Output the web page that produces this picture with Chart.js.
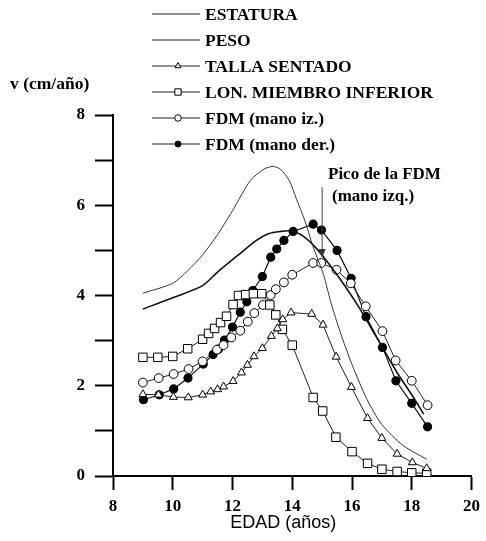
<!DOCTYPE html>
<html>
<head>
<meta charset="utf-8">
<script src="https://cdn.jsdelivr.net/npm/chart.js@4/dist/chart.umd.min.js"></script>
<style>
  body { margin: 0; background: #fff; }
</style>
</head>
<body>
<canvas id="velocidad" width="486" height="541"></canvas>
<script>
// Datos (edad en años, velocidad en cm/año)
const estaturaEdad = [9.0, 10.0, 10.5, 11.0, 11.5, 12.0, 12.6, 13.05, 13.35, 13.6, 13.9, 14.15, 14.4, 14.7, 15.05, 15.3, 15.6, 16.0, 16.5, 17.0, 17.7, 18.5];
const estaturaV    = [4.05, 4.27, 4.55, 4.9, 5.35, 5.88, 6.55, 6.8, 6.86, 6.8, 6.55, 6.12, 5.7, 5.08, 4.45, 3.83, 3.2, 2.47, 1.7, 1.14, 0.68, 0.37];

const pesoEdad = [9.0, 10.0, 11.0, 11.5, 12.2, 12.8, 13.2, 13.6, 14.0, 14.4, 14.8, 15.25, 15.7, 16.25, 16.8, 17.5, 18.0, 18.4];
const pesoV    = [3.7, 3.95, 4.22, 4.52, 4.9, 5.22, 5.37, 5.42, 5.43, 5.3, 5.05, 4.68, 4.27, 3.72, 3.1, 2.3, 1.8, 1.37];

const tallaEdad = [9.0, 9.52, 10.02, 10.52, 11.0, 11.27, 11.5, 11.7, 12.02, 12.3, 12.5, 12.72, 13.0, 13.3, 13.5, 13.68, 13.96, 14.65, 15.03, 15.47, 15.98, 16.52, 17.0, 17.51, 18.02, 18.5];
const tallaV    = [1.81, 1.8, 1.75, 1.74, 1.8, 1.87, 1.92, 1.98, 2.1, 2.29, 2.46, 2.65, 2.83, 3.1, 3.27, 3.47, 3.62, 3.59, 3.35, 2.64, 1.97, 1.28, 0.84, 0.49, 0.3, 0.17];

const miembroEdad = [9.0, 9.5, 10.0, 10.5, 11.0, 11.2, 11.4, 11.6, 11.8, 12.02, 12.2, 12.44, 12.7, 12.98, 13.25, 13.45, 13.67, 14.0, 14.7, 15.02, 15.46, 16.0, 16.52, 17.0, 17.51, 18.0, 18.5];
const miembroV    = [2.63, 2.63, 2.65, 2.82, 3.03, 3.16, 3.27, 3.4, 3.54, 3.8, 4.0, 4.02, 4.04, 4.04, 3.79, 3.57, 3.25, 2.9, 1.74, 1.44, 0.86, 0.54, 0.28, 0.15, 0.1, 0.07, 0.06];

const izqEdad = [9.0, 9.53, 10.03, 10.53, 11.0, 11.48, 11.7, 11.96, 12.26, 12.51, 12.73, 13.02, 13.28, 13.45, 13.72, 14.0, 14.7, 14.97, 15.48, 15.96, 16.46, 17.02, 17.46, 18.0, 18.53];
const izqV    = [2.07, 2.17, 2.26, 2.37, 2.54, 2.8, 2.9, 3.07, 3.22, 3.42, 3.61, 3.79, 4.01, 4.14, 4.29, 4.46, 4.72, 4.72, 4.57, 4.27, 3.76, 3.21, 2.56, 2.11, 1.57];

const derEdad = [9.02, 9.55, 10.03, 10.51, 11.02, 11.35, 11.53, 11.73, 12.0, 12.26, 12.48, 12.68, 13.0, 13.28, 13.48, 13.72, 14.03, 14.7, 14.98, 15.5, 15.97, 16.47, 17.02, 17.47, 18.0, 18.53];
const derV    = [1.69, 1.8, 1.93, 2.17, 2.48, 2.69, 2.81, 3.01, 3.3, 3.63, 3.86, 4.11, 4.42, 4.85, 5.03, 5.22, 5.42, 5.58, 5.45, 5.0, 4.38, 3.53, 2.85, 2.11, 1.61, 1.09];

const edadTicks = [8, 10, 12, 14, 16, 18, 20];
const velTicks = [0, 2, 4, 6, 8];

const nombres = ['ESTATURA', 'PESO', 'TALLA SENTADO', 'LON. MIEMBRO INFERIOR', 'FDM (mano iz.)', 'FDM (mano der.)'];

const serif = "'Liberation Serif', 'Times New Roman', serif";

function puntos(edades, valores) {
    return edades.map((e, i) => ({ x: e, y: valores[i] }));
}

const series = [
    { label: nombres[0], data: puntos(estaturaEdad, estaturaV), borderColor: '#333', borderWidth: 1, pointRadius: 0, tension: 0.25 },
    { label: nombres[1], data: puntos(pesoEdad, pesoV), borderColor: '#111', borderWidth: 1.6, pointRadius: 0, tension: 0.25 },
    { label: nombres[2], data: puntos(tallaEdad, tallaV), borderColor: '#222', borderWidth: 1, pointStyle: 'triangle', pointRadius: 4.6, pointBackgroundColor: '#fff', pointBorderColor: '#000' },
    { label: nombres[3], data: puntos(miembroEdad, miembroV), borderColor: '#222', borderWidth: 1, pointStyle: 'rect', pointRadius: 6, pointBackgroundColor: '#fff', pointBorderColor: '#000' },
    { label: nombres[4], data: puntos(izqEdad, izqV), borderColor: '#222', borderWidth: 1, pointStyle: 'circle', pointRadius: 4.4, pointBackgroundColor: '#fff', pointBorderColor: '#000' },
    { label: nombres[5], data: puntos(derEdad, derV), borderColor: '#111', borderWidth: 1.2, pointStyle: 'circle', pointRadius: 4, pointBackgroundColor: '#000', pointBorderColor: '#000' }
];

// dibuja el simbolo de la leyenda (algo mas chico que en el grafico)
function simbolo(ctx, ds, x, y) {
    if (!ds.pointRadius) return;
    ctx.save();
    ctx.fillStyle = ds.pointBackgroundColor;
    ctx.strokeStyle = ds.pointBorderColor;
    ctx.lineWidth = 1;
    const r = ds.pointRadius * 0.75;
    ctx.beginPath();
    if (ds.pointStyle === 'triangle') {
        for (let k = 0; k < 3; k++) {
            const a = k * 2 * Math.PI / 3;
            const px = x + Math.sin(a) * r, py = y - Math.cos(a) * r;
            if (k === 0) ctx.moveTo(px, py); else ctx.lineTo(px, py);
        }
        ctx.closePath();
    } else if (ds.pointStyle === 'rect') {
        const s = r * Math.SQRT1_2;
        ctx.rect(x - s, y - s, 2 * s, 2 * s);
    } else {
        ctx.arc(x, y, r, 0, 2 * Math.PI);
    }
    ctx.fill();
    ctx.stroke();
    ctx.restore();
}

const extras = {
    id: 'extras',
    afterDraw(chart) {
        const ctx = chart.ctx;
        const xs = chart.scales.x, ys = chart.scales.y;
        ctx.save();

        // leyenda
        ctx.font = 'bold 17.5px ' + serif;
        ctx.textBaseline = 'middle';
        ctx.textAlign = 'left';
        chart.data.datasets.forEach((ds, i) => {
            const y = 14 + i * 26;
            ctx.strokeStyle = '#222';
            ctx.lineWidth = 1;
            ctx.beginPath();
            ctx.moveTo(152, y);
            ctx.lineTo(200, y);
            ctx.stroke();
            simbolo(ctx, ds, 178, y);
            ctx.fillStyle = '#000';
            ctx.fillText(ds.label, 205, y + 1);
        });

        // titulo del eje y
        ctx.fillText('v (cm/año)', 10, 84);

        // titulo del eje x
        ctx.font = '18px "Liberation Sans", Arial, sans-serif';
        ctx.textAlign = 'center';
        ctx.fillText('EDAD (años)', xs.getPixelForValue(13.7), 523);

        // anotacion del pico
        ctx.font = 'bold 17px ' + serif;
        ctx.textAlign = 'left';
        ctx.fillText('Pico de la FDM', 328, 175);
        ctx.fillText('(mano izq.)', 332, 197);

        const px = xs.getPixelForValue(15.0);
        const y0 = ys.getPixelForValue(6.4);
        const y1 = ys.getPixelForValue(4.83);
        ctx.strokeStyle = '#444';
        ctx.lineWidth = 1;
        ctx.beginPath();
        ctx.moveTo(px, y0);
        ctx.lineTo(px, y1 - 6);
        ctx.stroke();
        ctx.fillStyle = '#333';
        ctx.beginPath();
        ctx.moveTo(px, y1);
        ctx.lineTo(px - 3.5, y1 - 9);
        ctx.lineTo(px + 3.5, y1 - 9);
        ctx.closePath();
        ctx.fill();
        ctx.restore();
    }
};

const ctx = document.getElementById('velocidad').getContext('2d');
const grafico = new Chart(ctx, {
    type: 'scatter',
    data: { datasets: series },
    options: {
        responsive: false,
        animation: false,
        showLine: true,
        layout: { padding: { top: 115, left: 0, right: 9, bottom: 0 } },
        plugins: {
            legend: { display: false },
            tooltip: { enabled: false }
        },
        scales: {
            x: {
                type: 'linear',
                min: 8,
                max: 20,
                afterFit: (s) => { s.height = 65; },
                afterBuildTicks: (s) => { s.ticks = edadTicks.map(v => ({ value: v })); },
                ticks: {
                    color: '#000',
                    padding: 6,
                    font: { family: serif, size: 17, weight: 'bold' }
                },
                grid: { drawOnChartArea: false, drawTicks: true, tickLength: 14, tickWidth: 2, tickColor: '#000' },
                border: { color: '#000', width: 2 }
            },
            y: {
                min: 0,
                max: 8,
                afterFit: (s) => { s.width = 113; },
                ticks: {
                    stepSize: 1,
                    color: '#000',
                    padding: 10,
                    font: { family: serif, size: 17, weight: 'bold' },
                    callback: (v) => velTicks.includes(v) ? String(v) : ''
                },
                grid: { drawOnChartArea: false, drawTicks: true, tickLength: 18, tickWidth: 2, tickColor: '#000' },
                border: { color: '#000', width: 2 }
            }
        }
    },
    plugins: [extras]
});
</script>
</body>
</html>
